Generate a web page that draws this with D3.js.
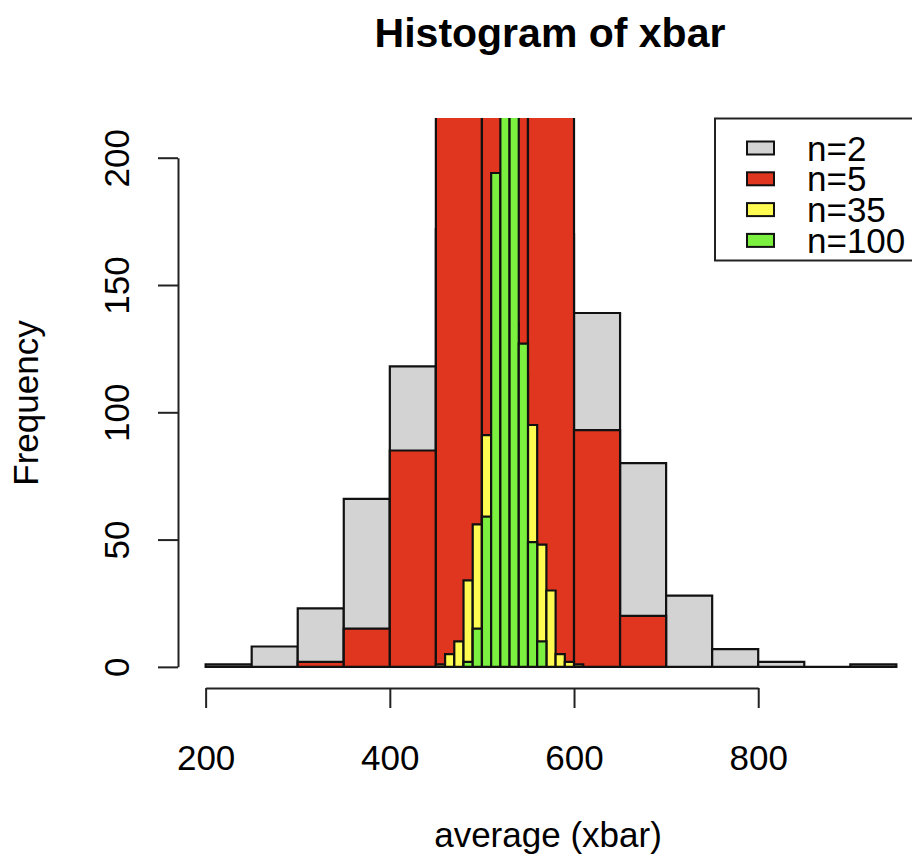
<!DOCTYPE html>
<html>
<head>
<meta charset="utf-8">
<script src="https://cdn.jsdelivr.net/npm/d3@7"></script>
<style>
    body { margin: 0; background: #fff; }
    svg text { font-family: "Liberation Sans", Arial, Helvetica, sans-serif; fill: #000; }
</style>
</head>
<body>
<svg id="chart" width="912" height="859"></svg>
<script>
// histogram breaks and counts, one pair per sample size
var n2Breaks = [200, 250, 300, 350, 400, 450, 500, 550, 600, 650, 700, 750, 800, 850, 900, 950];
var n2Counts = [1, 8, 23, 66, 118, 172, 186, 170, 139, 80, 28, 7, 2, 0, 1];

var n5Breaks = [300, 350, 400, 450, 500, 550, 600, 650, 700];
var n5Counts = [2, 15, 85, 255, 290, 240, 93, 20];

var n35Breaks = [450, 460, 470, 480, 490, 500, 510, 520, 530, 540, 550, 560, 570, 580, 590, 600, 610];
var n35Counts = [1, 5, 10, 34, 56, 91, 125, 140, 135, 115, 95, 48, 30, 5, 2, 1];

var n100Breaks = [480, 490, 500, 510, 520, 530, 540, 550, 560, 570];
var n100Counts = [2, 15, 59, 194, 285, 268, 127, 49, 10];

var seriesLabels = ["n=2", "n=5", "n=35", "n=100"];
var seriesColors = ["#d3d3d3", "#e0361f", "#fffb50", "#7cf03f"];

var xTicks = [200, 400, 600, 800];
var yTicks = [0, 50, 100, 150, 200];

var svg = d3.select("#chart");
var plot = {left: 178, right: 924, top: 118, bottom: 688};

// R style: xlim / ylim padded by 4% on each side
var x = d3.scaleLinear().domain([170, 980]).range([plot.left, plot.right]);
var y = d3.scaleLinear().domain([-8.3, 215.6]).range([plot.bottom, plot.top]);

svg.append("defs").append("clipPath")
    .attr("id", "plotClip")
    .append("rect")
    .attr("x", plot.left)
    .attr("y", plot.top)
    .attr("width", plot.right - plot.left)
    .attr("height", plot.bottom - plot.top);

function toBins(breaks, counts) {
    return counts.map(function (c, i) {
        return {x0: breaks[i], x1: breaks[i + 1], count: c};
    });
}

// path instead of rect so empty bins still show as a flat line
function binPath(d) {
    var l = x(d.x0), r = x(d.x1), b = y(0), t = y(d.count);
    return 'M ' + l + ',' + b + ' L' + l + ',' + t + ' L' + r + ',' + t + ' L' + r + ',' + b + ' z';
}

var series = [
    toBins(n2Breaks, n2Counts),
    toBins(n5Breaks, n5Counts),
    toBins(n35Breaks, n35Counts),
    toBins(n100Breaks, n100Counts)
];

var bars = svg.append("g").attr("clip-path", "url(#plotClip)");
series.forEach(function (bins, k) {
    bars.append("g")
        .attr("class", "hist")
        .selectAll("path")
        .data(bins)
        .enter().append("path")
        .attr("d", binPath)
        .style("fill", seriesColors[k])
        .style("stroke", "#111")
        .style("stroke-width", 2.2);
});

// x axis, only spanning the ticks like R does
var xAxisScale = d3.scaleLinear().domain([200, 800]).range([x(200), x(800)]);
var xAxis = svg.append("g")
    .attr("transform", "translate(0," + plot.bottom + ")")
    .call(d3.axisBottom(xAxisScale).tickValues(xTicks).tickSize(20).tickSizeOuter(0).tickFormat(d3.format("d")));
xAxis.selectAll("path, line").style("stroke", "#222").style("stroke-width", 2);
xAxis.selectAll("text")
    .attr("y", 82)
    .attr("dy", null)
    .style("font-size", "35px");

var yAxisScale = d3.scaleLinear().domain([0, 200]).range([y(0), y(200)]);
var yAxis = svg.append("g")
    .attr("transform", "translate(" + plot.left + ",0)")
    .call(d3.axisLeft(yAxisScale).tickValues(yTicks).tickSize(20).tickSizeOuter(0).tickFormat(d3.format("d")));
yAxis.selectAll("path, line").style("stroke", "#222").style("stroke-width", 2);
yAxis.selectAll("text")
    .attr("x", null)
    .attr("dy", null)
    .attr("text-anchor", "middle")
    .attr("transform", "translate(-49,0) rotate(-90)")
    .style("font-size", "35px");

svg.append("text")
    .attr("x", 550)
    .attr("y", 47)
    .attr("text-anchor", "middle")
    .style("font-size", "41px")
    .style("font-weight", "bold")
    .text("Histogram of xbar");

svg.append("text")
    .attr("x", 548)
    .attr("y", 847)
    .attr("text-anchor", "middle")
    .style("font-size", "35px")
    .text("average (xbar)");

svg.append("text")
    .attr("transform", "translate(38," + ((plot.top + plot.bottom) / 2) + ") rotate(-90)")
    .attr("text-anchor", "middle")
    .style("font-size", "35px")
    .text("Frequency");

// legend in the top right corner of the plot region
var legend = svg.append("g");
legend.append("rect")
    .attr("x", 715)
    .attr("y", plot.top + 0.5)
    .attr("width", plot.right - 715)
    .attr("height", 142)
    .style("fill", "#fff")
    .style("stroke", "#222")
    .style("stroke-width", 2);
var legendRows = legend.selectAll("g.row")
    .data(seriesLabels)
    .enter().append("g")
    .attr("class", "row")
    .attr("transform", function (d, i) { return "translate(0," + (148 + i * 30.8) + ")"; });
legendRows.append("rect")
    .attr("x", 747)
    .attr("y", -6.5)
    .attr("width", 27)
    .attr("height", 13)
    .style("fill", function (d, i) { return seriesColors[i]; })
    .style("stroke", "#111")
    .style("stroke-width", 2);
legendRows.append("text")
    .attr("x", 807)
    .attr("y", 12.5)
    .style("font-size", "35px")
    .text(function (d) { return d; });
</script>
</body>
</html>
